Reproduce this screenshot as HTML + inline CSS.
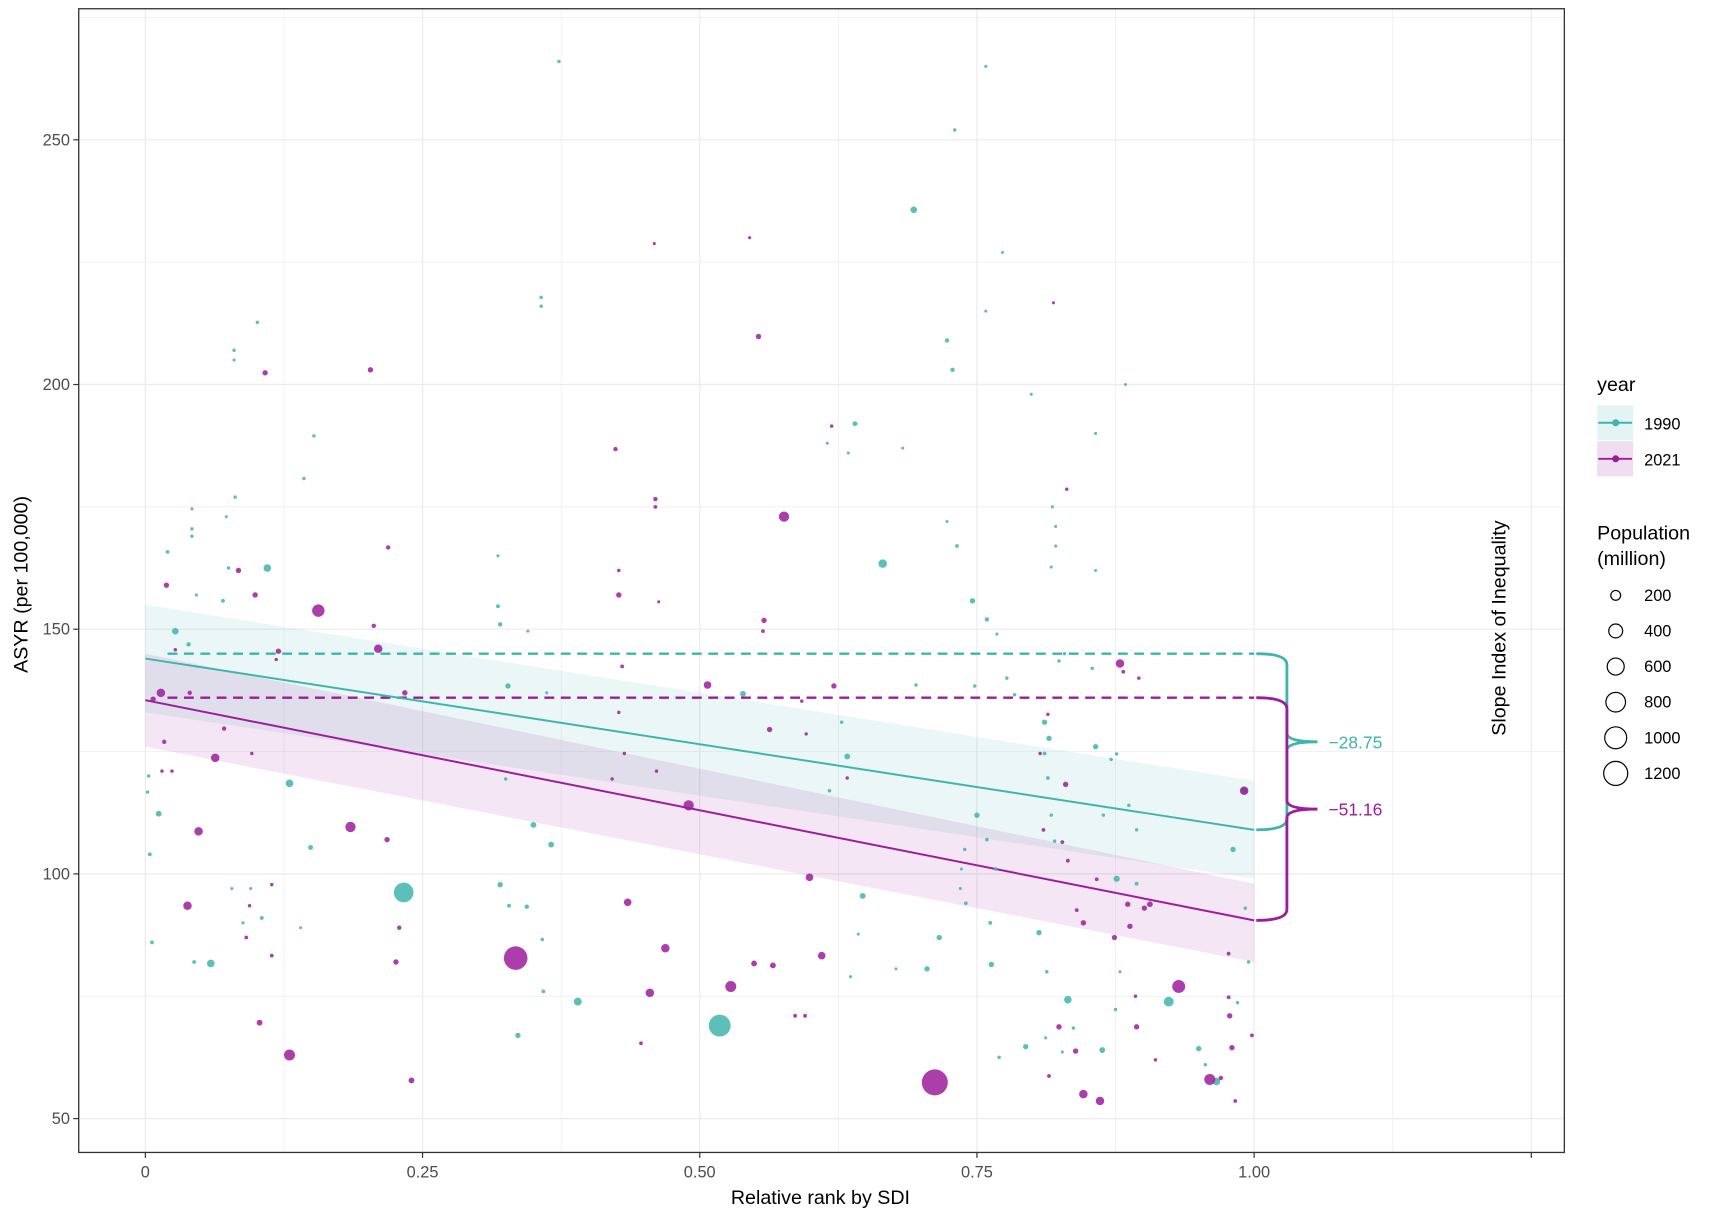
<!DOCTYPE html>
<html><head><meta charset="utf-8"><style>
html,body{margin:0;padding:0;background:#fff}
svg{display:block;font-family:"Liberation Sans",Arial,sans-serif}
</style></head><body>
<svg id="chart" width="1713" height="1218" viewBox="0 0 1568 1115" xmlns="http://www.w3.org/2000/svg">
<g id="grid"></g>
<g id="ribbons"></g>
<g id="lines"></g>
<g id="points"></g>
<g id="axes"></g>
<g id="legend"></g>
</svg>
<script>
const xTicks=[0,0.25,0.5,0.75,1.0,1.25];
const xTickLabels=["0","0.25","0.50","0.75","1.00",""];
const yTicks=[50,100,150,200,250];
const yTickLabels=["50","100","150","200","250"];
const fit1990=[144,109];const band1990lo=[133,99];const band1990hi=[155,119];
const fit2021=[135.5,90.5];const band2021lo=[126,82];const band2021hi=[145,98];
const dash1990=145;const dash2021=136;
const sii1990="\u221228.75";const sii2021="\u221251.16";
const legendPops=[200,400,600,800,1000,1200];
const x1990=[0.693,0.730,0.373,0.758,0.357,0.357,0.101,0.080,0.080,0.723,0.728,0.773,0.758,0.799,0.884,0.640,0.683,0.615,0.634,0.857,0.152,0.143,0.081,0.042,0.042,0.042,0.073,0.665,0.723,0.732,0.818,0.821,0.821,0.817,0.857,0.746,0.759,0.768,0.110,0.020,0.027,0.039,0.075,0.070,0.046,0.318,0.318,0.320,0.345,0.327,0.325,0.362,0.003,0.002,0.012,0.004,0.006,0.130,0.149,0.233,0.059,0.044,0.078,0.095,0.088,0.105,0.140,0.320,0.328,0.344,0.358,0.359,0.336,0.350,0.366,0.390,0.518,0.647,0.643,0.636,0.677,0.716,0.705,0.739,0.736,0.735,0.740,0.750,0.759,0.767,0.762,0.763,0.770,0.794,0.806,0.813,0.812,0.832,0.837,0.827,0.863,0.875,0.879,0.876,0.894,0.894,0.887,0.871,0.876,0.857,0.811,0.815,0.811,0.814,0.817,0.820,0.923,0.950,0.956,0.966,0.985,0.995,0.992,0.981,0.991,0.864,0.777,0.784,0.748,0.824,0.829,0.854,0.539,0.628,0.633,0.617,0.695];
const y1990=[235.7,252,266,265,217.8,216,212.7,207,205,209,203,227,215,198,200,192,187,188,186,190,189.5,180.8,177,174.6,170.5,169,173,163.4,172,167,175,171,167,162.7,162,155.8,152,149,162.5,165.8,149.6,146.9,162.5,155.8,157,165,154.7,151,149.6,138.4,119.4,137,120,116.7,112.3,104,86,118.5,105.4,96.2,81.7,82,97,97,90,91,89,97.8,93.5,93.3,86.6,76,67,110,106,73.9,69,95.5,87.7,79,80.6,87,80.6,105,101,97,94,112,107,101,90,81.5,62.5,64.7,88,80,66.5,74.3,68.5,63.6,64,72.3,80,99,98,109,114,123.4,124.5,126,131,127.7,124.6,119.6,112,106.7,73.9,64.3,61,57.6,73.7,82,93,105,117,112,140,136.6,138.4,143.5,145,142,136.8,131,124,117,138.6];
const pop1990=[90,25,25,20,25,25,25,25,20,40,40,15,15,20,15,50,15,15,20,15,25,25,25,20,25,25,15,150,15,30,20,20,20,20,15,60,40,20,120,30,90,40,25,30,20,20,30,40,15,60,25,15,25,25,70,30,30,120,50,800,120,30,20,20,20,30,15,60,30,40,25,30,60,70,70,130,990,70,15,20,15,60,60,25,20,20,30,60,30,25,30,60,25,60,60,25,20,120,25,20,70,25,20,80,30,25,25,25,25,60,60,60,30,30,25,25,200,60,25,120,25,25,25,60,100,25,25,25,25,25,25,25,70,25,70,25,25];
const x2021=[0.203,0.108,0.459,0.545,0.553,0.819,0.424,0.619,0.831,0.219,0.460,0.460,0.576,0.427,0.427,0.463,0.156,0.019,0.084,0.099,0.558,0.557,0.206,0.210,0.120,0.118,0.027,0.430,0.507,0.592,0.621,0.879,0.882,0.896,0.014,0.007,0.040,0.234,0.017,0.063,0.015,0.024,0.071,0.096,0.490,0.421,0.432,0.461,0.427,0.563,0.596,0.633,0.807,0.814,0.830,0.991,0.810,0.827,0.832,0.858,0.840,0.846,0.886,0.901,0.906,0.888,0.874,0.185,0.048,0.218,0.038,0.094,0.114,0.091,0.114,0.229,0.226,0.334,0.599,0.435,0.469,0.610,0.549,0.566,0.528,0.455,0.447,0.586,0.595,0.103,0.130,0.240,0.712,0.846,0.861,0.815,0.839,0.824,0.894,0.932,0.960,0.970,0.980,0.983,0.998,0.978,0.977,0.977,0.893,0.911];
const y2021=[203,202.4,228.8,230,209.8,216.7,186.8,191.5,178.6,166.7,176.6,175,173,157,162,155.6,153.8,159,162,157,151.8,149.6,150.7,146,145.5,143.8,145.8,142.4,138.6,135.3,138.4,143,141.3,140,137,135.7,137,137,127,123.7,121,121,129.7,124.6,114,119.4,124.6,121,133,129.5,128.6,119.6,124.6,132.6,118.3,117,109,106.5,102.7,98.9,92.6,90,93.8,93,93.8,89.3,87,109.6,108.7,107,93.5,93.5,97.8,87,83.3,89,82,82.8,99.3,94.2,84.8,83.3,81.7,81.3,77,75.7,65.4,71,71,69.6,63,57.8,57.4,55,53.6,58.7,63.8,68.75,68.75,77,58,58.3,64.5,53.6,67,71,74.8,83.7,75,62];
const pop2021=[60,60,20,20,60,20,40,25,25,40,40,30,220,60,25,20,320,60,60,60,60,30,40,150,60,25,25,30,120,25,60,150,30,25,150,60,40,60,40,150,25,25,40,25,220,25,25,25,25,60,25,25,25,25,60,150,30,30,30,30,30,60,60,60,70,60,60,220,150,60,150,25,25,30,30,40,60,1150,120,120,150,120,70,70,250,150,30,30,30,70,250,70,1400,150,150,30,60,60,60,350,250,40,60,30,30,60,30,30,25,25];

const TEAL="#3fb4ae",PURP="#9c1c9c";
const X=v=>133+v*1015;
const Y=v=>1024-(v-50)*4.48;
const R=p=>Math.max(1.4,0.318*Math.sqrt(p));
const NS="http://www.w3.org/2000/svg";
function mk(tag,attrs,parent,text){const e=document.createElementNS(NS,tag);for(const k in attrs)e.setAttribute(k,attrs[k]);if(text!==undefined)e.textContent=text;parent.appendChild(e);return e;}
const L=72,Rt=1432,T=8,B=1055;
const grid=document.getElementById('grid');
mk('rect',{x:L,y:T,width:Rt-L,height:B-T,fill:'#fff'},grid);
for(let v=-0.125;v<=1.3;v+=0.125){const px=X(v);if(px<L||px>Rt)continue;
 const g=mk('line',{x1:px,x2:px,y1:T,y2:B,stroke:'#ebebeb','stroke-width':(Math.abs(v*4-Math.round(v*4))<1e-6)?1.1:0.6},grid);
 }
for(let v=25;v<=300;v+=25){const py=Y(v);if(py<T||py>B)continue;
 const g=mk('line',{x1:L,x2:Rt,y1:py,y2:py,stroke:'#ebebeb','stroke-width':(v%50===0)?1.1:0.6},grid);
 }
const rib=document.getElementById('ribbons');
function band(lo,hi,fill,name){const p=mk('polygon',{points:`${X(0)},${Y(hi[0])} ${X(1)},${Y(hi[1])} ${X(1)},${Y(lo[1])} ${X(0)},${Y(lo[0])}`,fill:fill,'fill-opacity':0.11},rib);
 }
band(band1990lo,band1990hi,TEAL,'ribbon-1990');
band(band2021lo,band2021hi,PURP,'ribbon-2021');
const ln=document.getElementById('lines');
let e;
e=mk('line',{x1:X(0.02),x2:X(1),y1:Y(dash1990),y2:Y(dash1990),stroke:TEAL,'stroke-width':2.2,'stroke-dasharray':'9,6'},ln);

e=mk('line',{x1:X(0.02),x2:X(1),y1:Y(dash2021),y2:Y(dash2021),stroke:PURP,'stroke-width':2.2,'stroke-dasharray':'9,6'},ln);

e=mk('line',{x1:X(0),x2:X(1),y1:Y(fit1990[0]),y2:Y(fit1990[1]),stroke:TEAL,'stroke-width':1.8},ln);

e=mk('line',{x1:X(0),x2:X(1),y1:Y(fit2021[0]),y2:Y(fit2021[1]),stroke:PURP,'stroke-width':1.8},ln);

function brace(yTop,yBot,col,label,name){const x0=X(1)+2,xm=x0+28,xt=x0+56;const a=Y(yTop),b=Y(yBot),m=(a+b)/2;
 const p=mk('path',{d:`M${x0},${a} Q${xm},${a} ${xm},${a+10} L${xm},${m-8} Q${xm},${m} ${xt},${m} Q${xm},${m} ${xm},${m+8} L${xm},${b-10} Q${xm},${b} ${x0},${b}`,fill:'none',stroke:col,'stroke-width':2.6},ln);
 
 const t=mk('text',{x:xt+10,y:m+6,fill:col,'font-size':16},ln,label);
 }
brace(dash1990,fit1990[1],TEAL,sii1990,'sii-1990');
brace(dash2021,fit2021[1],PURP,sii2021,'sii-2021');
const pts=document.getElementById('points');
function series(xs,ys,ps,col,name){for(let i=0;i<xs.length;i++){
 const c=mk('circle',{cx:X(xs[i]),cy:Y(ys[i]),r:R(ps[i]),fill:col,'fill-opacity':0.85},pts);
 }}
series(x1990,y1990,pop1990,TEAL,'point-1990');
series(x2021,y2021,pop2021,PURP,'point-2021');
const ax=document.getElementById('axes');
e=mk('rect',{x:L,y:T,width:Rt-L,height:B-T,fill:'none',stroke:'#333','stroke-width':1.2},ax);

xTicks.forEach((v,i)=>{const px=X(v);mk('line',{x1:px,x2:px,y1:B,y2:B+5,stroke:'#333','stroke-width':1.1},ax);
 const t=mk('text',{x:px,y:B+23,'text-anchor':'middle','font-size':15,fill:'#4d4d4d'},ax,xTickLabels[i]);
 });
yTicks.forEach((v,i)=>{const py=Y(v);mk('line',{x1:L-5,x2:L,y1:py,y2:py,stroke:'#333','stroke-width':1.1},ax);
 const t=mk('text',{x:L-8,y:py+5,'text-anchor':'end','font-size':15,fill:'#4d4d4d'},ax,yTickLabels[i]);
 });
e=mk('text',{x:751,y:1102,'text-anchor':'middle','font-size':18,fill:'#000'},ax,'Relative rank by SDI');

e=mk('text',{x:0,y:0,transform:'translate(25,535) rotate(-90)','text-anchor':'middle','font-size':18,fill:'#000'},ax,'ASYR (per 100,000)');

e=mk('text',{x:0,y:0,transform:'translate(1378,575) rotate(-90)','text-anchor':'middle','font-size':18,fill:'#000'},ax,'Slope Index of Inequality');

const lg=document.getElementById('legend');
e=mk('text',{x:1462,y:358,'font-size':18,fill:'#000'},lg,'year');

[["1990",TEAL,387],["2021",PURP,420]].forEach(([lab,col,y])=>{
 const k=mk('rect',{x:1462,y:y-16,width:33,height:32,fill:col,'fill-opacity':0.15},lg);
 
 mk('line',{x1:1463,x2:1494,y1:y,y2:y,stroke:col,'stroke-width':1.8},lg);
 mk('circle',{cx:1479,cy:y,r:3.2,fill:col},lg);
 const t=mk('text',{x:1505,y:y+6,'font-size':15,fill:'#000'},lg,lab);
 });
e=mk('text',{x:1462,y:494,'font-size':18,fill:'#000'},lg,'Population');

e=mk('text',{x:1462,y:517,'font-size':18,fill:'#000'},lg,'(million)');

legendPops.forEach((p,i)=>{const y=545+i*32.6;
 const c=mk('circle',{cx:1479,cy:y,r:R(p),fill:'none',stroke:'#000','stroke-width':1.1},lg);
 
 const t=mk('text',{x:1505,y:y+5,'font-size':15,fill:'#000'},lg,String(p));
 });
</script>
</body></html>
